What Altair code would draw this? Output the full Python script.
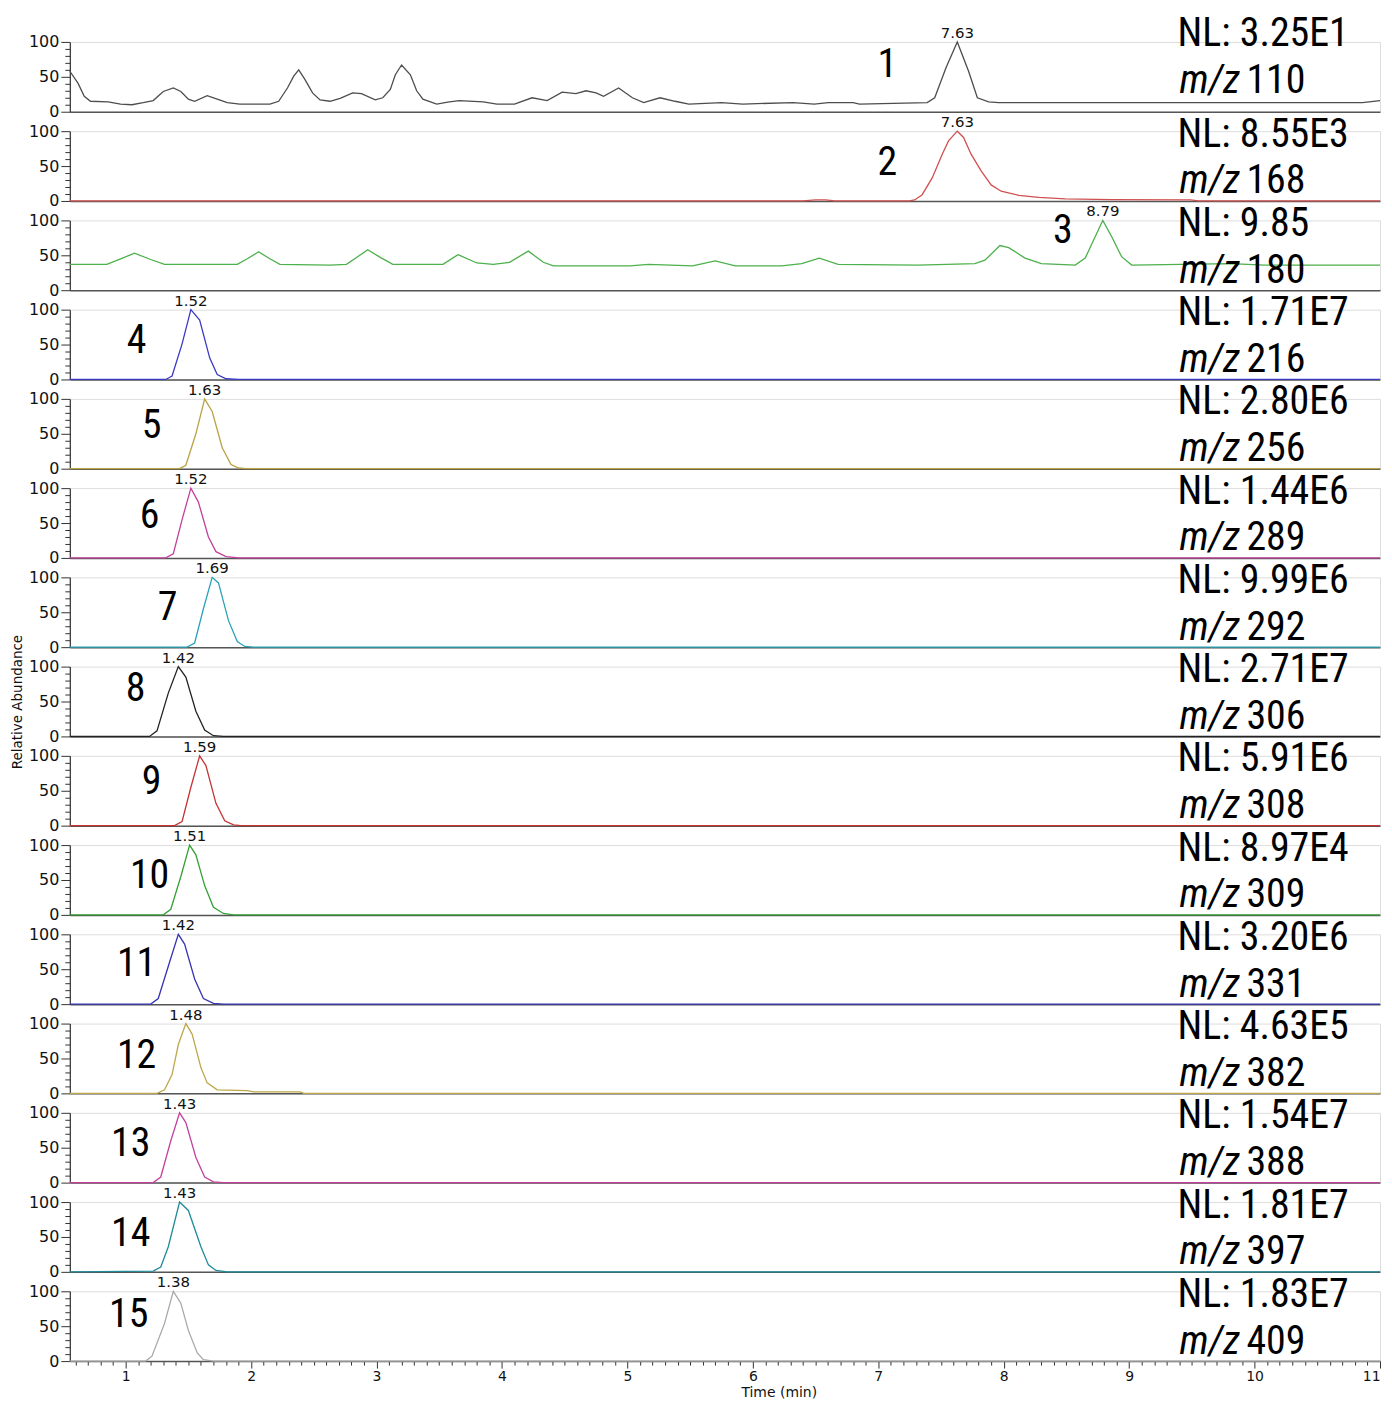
import altair as alt
import pandas as pd

# ---------------- data ----------------
trace1 = [(0.555,58),(0.62,41),(0.67,22),(0.72,15),(0.86,14),(0.96,11),(1.05,10),(1.14,13),(1.22,16),
          (1.30,29),(1.38,34),(1.44,29),(1.50,18),(1.55,15),(1.65,23),(1.73,18),(1.81,13),(1.91,11),
          (2.07,11),(2.15,11),(2.22,15),(2.29,34),(2.34,51),(2.38,60),(2.43,46),(2.49,27),(2.55,17),
          (2.63,15),(2.71,19),(2.81,27),(2.88,26),(2.99,17),(3.05,20),(3.11,32),(3.15,53),(3.20,67),
          (3.27,53),(3.32,30),(3.37,18),(3.48,11),(3.58,14),(3.66,16),(3.85,14),(3.96,11),(4.10,11),
          (4.24,20),(4.36,16),(4.48,28),(4.59,26),(4.67,30),(4.75,27),(4.81,22),(4.93,34),(5.04,20),
          (5.13,13),(5.26,20),(5.38,15),(5.49,11),(5.75,13),(5.92,11),(6.32,13),(6.49,11),(6.60,13),
          (6.80,13),(6.85,11),(7.39,13),(7.45,20),(7.54,63),(7.63,100),(7.72,58),(7.79,20),(7.88,14),
          (7.96,13),(10.86,13),(11.0,16)]
trace2 = [(0.555,0),(6.40,0),(6.50,1.5),(6.58,1.5),(6.65,0),(7.25,0),(7.29,1.5),(7.35,9),(7.43,33),
          (7.51,67),(7.56,86),(7.63,100),(7.68,91),(7.74,67),(7.82,43),(7.90,23),(7.98,14),(8.12,8),
          (8.28,5),(8.49,3),(8.86,2),(9.49,1.5),(9.55,0),(11.0,0)]
trace3 = [(0.555,37),(0.85,37),(0.96,45),(1.07,53),(1.20,44),(1.31,37),(1.89,37),(1.97,45),(2.06,55),
          (2.15,45),(2.23,37),(2.63,36),(2.76,37),(2.85,48),(2.93,58),(3.03,47),(3.13,37),(3.53,37),
          (3.65,51),(3.80,39),(3.93,37),(4.06,40),(4.21,56),(4.33,40),(4.41,35),(5.02,35),(5.17,37),
          (5.52,35),(5.70,42),(5.86,35),(6.23,35),(6.39,38),(6.53,46),(6.68,37),(7.32,36),(7.77,38),
          (7.85,43),(7.97,64),(8.04,61),(8.17,46),(8.30,38),(8.57,36),(8.65,46),(8.73,77),(8.79,100),
          (8.86,77),(8.94,48),(9.02,36),(9.81,38),(10.08,36),(11.0,36)]
trace4 = [(0.555,0),(1.32,0),(1.37,5),(1.45,51),(1.52,100),(1.59,85),(1.67,31),(1.73,7),(1.80,1),(1.90,0),(11.0,0)]
trace5 = [(0.555,0),(1.43,0),(1.48,5),(1.56,50),(1.63,100),(1.69,82),(1.77,30),(1.84,6),(1.90,1),(1.96,0),(11.0,0)]
trace6 = [(0.555,0),(1.32,0),(1.38,6),(1.45,55),(1.52,100),(1.58,80),(1.66,30),(1.72,9),(1.80,2),(1.90,0),(11.0,0)]
trace7 = [(0.555,0),(1.49,0),(1.55,6),(1.62,55),(1.69,100),(1.74,92),(1.82,38),(1.89,8),(1.95,1),(2.02,0),(11.0,0)]
trace8 = [(0.555,0),(1.19,0),(1.25,8),(1.34,62),(1.42,100),(1.48,85),(1.56,36),(1.63,9),(1.70,1),(1.78,0),(11.0,0)]
trace9 = [(0.555,0),(1.39,0),(1.45,6),(1.52,55),(1.59,100),(1.64,86),(1.72,32),(1.79,7),(1.86,1),(1.92,0),(11.0,0)]
trace10 = [(0.555,0),(1.30,0),(1.36,8),(1.44,55),(1.51,100),(1.56,86),(1.63,42),(1.70,11),(1.78,2),(1.86,0),(11.0,0)]
trace11 = [(0.555,0),(1.20,0),(1.26,8),(1.35,60),(1.42,100),(1.47,86),(1.55,36),(1.62,8),(1.70,1),(1.78,0),(11.0,0)]
trace12 = [(0.555,0),(1.25,0),(1.31,5),(1.37,27),(1.42,70),(1.48,100),(1.53,85),(1.60,37),(1.65,15),(1.73,5),
           (1.97,4),(2.02,2),(2.39,2),(2.42,0),(11.0,0)]
trace13 = [(0.555,0),(1.22,0),(1.28,8),(1.36,60),(1.43,100),(1.48,86),(1.56,36),(1.63,8),(1.70,1),(1.78,0),(11.0,0)]
trace14 = [(0.555,0),(1.22,1),(1.28,7),(1.34,36),(1.43,100),(1.50,88),(1.60,36),(1.66,10),(1.72,2),(1.81,0),(11.0,0)]
trace15 = [(0.555,0),(1.16,0),(1.21,7),(1.31,54),(1.38,100),(1.44,83),(1.50,44),(1.57,12),(1.62,2),(1.70,0),(11.0,0)]

traces = [trace1, trace2, trace3, trace4, trace5, trace6, trace7, trace8, trace9, trace10,
          trace11, trace12, trace13, trace14, trace15]

peak_rt = [7.63, 7.63, 8.79, 1.52, 1.63, 1.52, 1.69, 1.42, 1.59, 1.51, 1.42, 1.48, 1.43, 1.43, 1.38]
nl_values = ["3.25E1", "8.55E3", "9.85", "1.71E7", "2.80E6", "1.44E6", "9.99E6", "2.71E7",
             "5.91E6", "8.97E4", "3.20E6", "4.63E5", "1.54E7", "1.81E7", "1.83E7"]
mz_values = ["110", "168", "180", "216", "256", "289", "292", "306", "308", "309",
             "331", "382", "388", "397", "409"]
compound_ids = [str(i) for i in range(1, 16)]

x_major_ticks = [1, 2, 3, 4, 5, 6, 7, 8, 9, 10, 11]
y_ticks = [0, 10, 20, 30, 40, 50, 60, 70, 80, 90, 100]

# ---------------- styles / layout ----------------
colors = ["#4d4d4d", "#d05050", "#4cb04c", "#3a3ac4", "#b8a244", "#c2409c", "#2aa2b8",
          "#222222", "#c43434", "#34a034", "#3434b4", "#bca84a", "#c4409e", "#1f8a9a", "#a8a8a8"]
num_pos = [(820, 23), (820, 31.5), (996, 11), (67, 31.5), (82, 27), (80, 27.5), (98, 31),
           (66, 22.5), (82, 26), (80, 31.5), (67, 30), (67, 32.5), (61, 31), (61, 32.5), (59, 24)]

W, H = 1314, 70
XDOM = [0.555, 11.0]
NARROW = "'Roboto Condensed', 'DejaVu Sans Condensed', sans-serif"
WIDE = "'DejaVu Sans', Verdana, sans-serif"

x_minor = [round(0.6 + 0.1 * i, 1) for i in range(0, 105)]

xscale = alt.Scale(domain=XDOM, nice=False, zero=False)
yscale = alt.Scale(domain=[0, 100], nice=False)

is_int = "abs(datum.value - round(datum.value)) < 0.01"


def make_panel(i):
    df = pd.DataFrame(traces[i], columns=["t", "v"])
    last = i == len(traces) - 1
    if last:
        xaxis = alt.Axis(values=x_minor, title="Time (min)",
                         tickSize={"condition": {"test": is_int, "value": 7},
                                   "value": 4},
                         labelExpr=f"{is_int} ? format(datum.value, 'd') : ''",
                         labelOverlap=False, labelFlush=True, labelPadding=1,
                         grid=False, domainColor="#555555", domainWidth=1.5,
                         tickColor="#333333", tickWidth=1,
                         labelFont=WIDE, labelFontSize=14, labelColor="#111111",
                         titleFont=WIDE, titleFontSize=14, titleFontWeight="normal",
                         titleColor="#111111", titleX=711, titleY=25,
                         titleBaseline="top", titleAlign="center")
    else:
        xaxis = alt.Axis(title=None, labels=False, ticks=False, grid=False,
                         domainColor="#555555", domainWidth=1.5)
    if i == 7:
        ytitle_kwargs = dict(title="Relative Abundance", titleFont=WIDE, titleFontSize=13.5,
                             titleFontWeight="normal", titleColor="#111111",
                             titleX=-52, titleY=35, titleBaseline="middle", titleAlign="center",
                             titleAngle=270)
    else:
        ytitle_kwargs = dict(title=None)
    yaxis = alt.Axis(values=y_ticks,
                     tickSize={"condition": {"test": "datum.value % 50 === 0", "value": 9},
                               "value": 5},
                     labelExpr="datum.value % 50 === 0 ? datum.label : ''",
                     labelOverlap=False, labelFlush=False, labelPadding=2,
                     grid=False, domainColor="#333333", domainWidth=1.2,
                     tickColor="#333333", tickWidth=1,
                     labelFont=WIDE, labelFontSize=16, labelColor="#111111",
                     **ytitle_kwargs)

    line = alt.Chart(df).mark_line(color=colors[i], strokeWidth=1.3).encode(
        x=alt.X("t:Q", scale=xscale, axis=xaxis),
        y=alt.Y("v:Q", scale=yscale, axis=yaxis),
        order="t:Q",
    )
    lab_df = pd.DataFrame({"t": [peak_rt[i]], "v": [100], "label": [f"{peak_rt[i]:.2f}"],
                           "num": [compound_ids[i]],
                           "nl": [f"NL: {nl_values[i]}"], "mz": [mz_values[i]]})
    peak_lab = alt.Chart(lab_df).mark_text(baseline="bottom", dy=-1, fontSize=15, font=WIDE,
                                           color="#111111").encode(
        x=alt.X("t:Q", scale=xscale, axis=xaxis), y=alt.Y("v:Q", scale=yscale, axis=yaxis),
        text="label:N")
    nx, ny = num_pos[i]
    num = alt.Chart(lab_df).mark_text(fontSize=40, font=NARROW, align="center",
                                      baseline="middle", color="#000000").encode(
        x=alt.value(nx), y=alt.value(ny), text="num:N")
    shift = -11 if i == 0 else 0
    nl = alt.Chart(lab_df).mark_text(fontSize=40, font=NARROW, align="left",
                                     baseline="middle", color="#000000").encode(
        x=alt.value(1180 - 69), y=alt.value(3.5 + shift), text="nl:N")
    mz_it = alt.Chart(lab_df).mark_text(fontSize=40, font=NARROW, align="left",
                                        baseline="middle", fontStyle="italic",
                                        color="#000000").encode(
        x=alt.value(1182 - 69), y=alt.value(50.5 + shift), text=alt.value("m/z"))
    mz_num = alt.Chart(lab_df).mark_text(fontSize=40, font=NARROW, align="left",
                                         baseline="middle", color="#000000").encode(
        x=alt.value(1249 - 69), y=alt.value(50.5 + shift), text="mz:N")
    return alt.layer(line, peak_lab, num, nl, mz_it, mz_num).properties(width=W, height=H)


panels = [make_panel(i) for i in range(len(traces))]
chart = (alt.vconcat(*panels, spacing=19.5, bounds="flush")
         .configure_view(strokeWidth=0, stroke="transparent")
         .configure_axis(grid=False)
         .configure(background="white", padding={"left": 2, "top": 4, "right": 0, "bottom": 0}))

chart.save("out.html", embed_options={"renderer": "svg", "actions": False})
